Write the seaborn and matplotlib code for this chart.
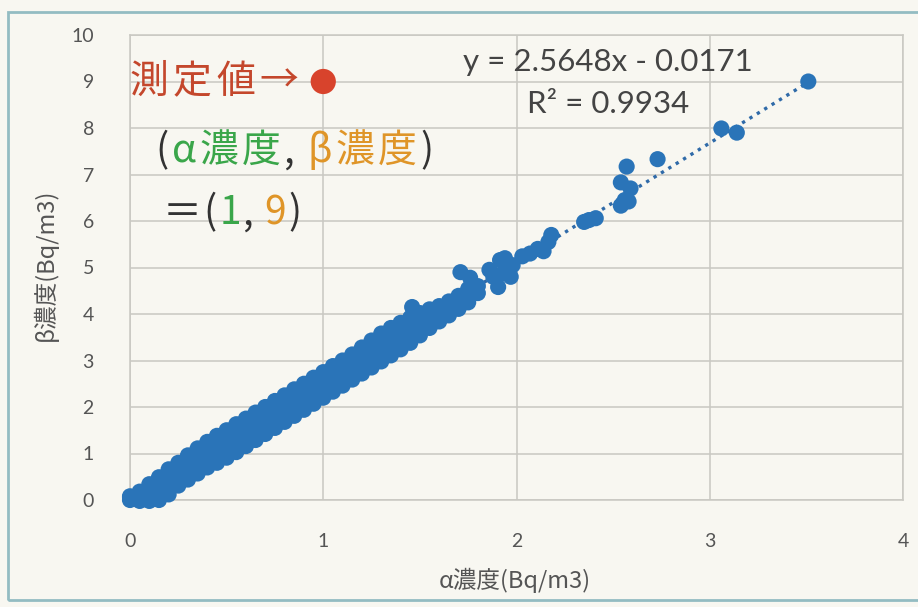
import numpy as np
import pandas as pd
import matplotlib.pyplot as plt
import seaborn as sns
from matplotlib.offsetbox import TextArea, HPacker, AnnotationBbox
from matplotlib.patches import Rectangle

band_x = [0.00, 0.05, 0.10, 0.15, 0.20, 0.25, 0.30, 0.35, 0.40, 0.45,
          0.50, 0.55, 0.60, 0.65, 0.70, 0.75, 0.80, 0.85, 0.90, 0.95,
          1.00, 1.05, 1.10, 1.15, 1.20, 1.25, 1.30, 1.35, 1.40, 1.45,
          1.50, 1.55, 1.60, 1.65, 1.70, 1.75]
band_lo = [0.00, -0.02, -0.02, 0.00, 0.12, 0.31, 0.44, 0.57, 0.70, 0.80,
           0.91, 1.03, 1.16, 1.29, 1.42, 1.55, 1.68, 1.81, 1.94, 2.07,
           2.20, 2.33, 2.46, 2.59, 2.72, 2.85, 2.98, 3.11, 3.24, 3.38,
           3.54, 3.70, 3.84, 3.97, 4.11, 4.25]
band_mid = [0.05, 0.08, 0.15, 0.22, 0.36, 0.52, 0.67, 0.82, 0.95, 1.07,
            1.20, 1.33, 1.46, 1.59, 1.71, 1.84, 1.97, 2.09, 2.22, 2.35,
            2.48, 2.60, 2.73, 2.86, 3.00, 3.14, 3.28, 3.40, 3.52, 3.65,
            3.78, 3.90, 4.00, 4.11, 4.25, 4.40]
band_hi = [0.08, 0.18, 0.34, 0.49, 0.66, 0.80, 0.96, 1.11, 1.25, 1.38,
           1.50, 1.63, 1.75, 1.88, 2.00, 2.13, 2.25, 2.38, 2.50, 2.63,
           2.75, 2.88, 3.00, 3.13, 3.28, 3.43, 3.58, 3.70, 3.81, 3.92,
           4.02, 4.10, 4.17, 4.27, 4.39, 4.54]

# sparse points at the upper end
tail_alpha = [1.46, 1.71, 1.76, 1.80, 1.80, 1.86, 1.88, 1.905, 1.915, 1.93,
              1.94, 1.97, 1.98, 2.03, 2.07, 2.11, 2.14, 2.165, 2.18, 2.35,
              2.375, 2.41, 2.54, 2.56, 2.58, 2.54, 2.59, 2.57, 2.73, 3.06,
              3.14, 3.51]
tail_beta = [4.15, 4.90, 4.78, 4.45, 4.60, 4.95, 4.80, 4.58, 5.16, 4.88,
             5.20, 4.80, 5.05, 5.24, 5.30, 5.40, 5.35, 5.55, 5.70, 5.98,
             6.02, 6.06, 6.33, 6.45, 6.42, 6.83, 6.70, 7.17, 7.33, 7.99,
             7.90, 9.00]

trend_slope = 2.5648
trend_intercept = -0.0171
trend_x = [0.0, 3.51]

marked_alpha = [1]
marked_beta = [9]

x_ticks = [0, 1, 2, 3, 4]
y_ticks = [0, 1, 2, 3, 4, 5, 6, 7, 8, 9, 10]

blue = "#2a74b8"
red = "#d8432c"
green = "#3aa64a"
orange = "#df9528"
dark = "#333333"
bg = "#f8f7f1"

df = pd.DataFrame({
    "alpha": band_x * 3 + tail_alpha,
    "beta": band_lo + band_mid + band_hi + tail_beta,
})

sns.set_style("white")
plt.rcParams["font.family"] = ["Lato", "Noto Sans CJK JP", "DejaVu Sans"]
jp = ["Noto Sans CJK JP", "DejaVu Sans"]

fig = plt.figure(figsize=(9.18, 6.07), dpi=100, facecolor=bg)
ax = fig.add_axes([130 / 918, 107 / 607, 773 / 918, 465 / 607])
ax.set_facecolor(bg)

# outer chart frame (right side runs off the page like the scan)
fig.patches.append(Rectangle((8 / 918, 7 / 607), 1.05, 588 / 607, transform=fig.transFigure,
                             fill=False, edgecolor="#93bcc2", linewidth=2))

trend_y = [trend_slope * v + trend_intercept for v in trend_x]
sns.lineplot(x=trend_x, y=trend_y, ax=ax, color="#2f6aa8", linewidth=2.4,
             linestyle=(0, (1, 1.6)), zorder=2)

sns.scatterplot(data=df, x="alpha", y="beta", ax=ax, color=blue, s=135,
                edgecolor="none", linewidth=0, clip_on=False, zorder=3)
sns.scatterplot(x=marked_alpha, y=marked_beta, ax=ax, color=red, s=330,
                edgecolor="none", linewidth=0, clip_on=False, zorder=4)

ax.set_xlim(0, 4)
ax.set_ylim(0, 10)
ax.set_xticks(x_ticks)
ax.set_yticks(y_ticks)
ax.grid(True, color="#c9c8c2", linewidth=1.1)
ax.set_axisbelow(True)
for sp in ax.spines.values():
    sp.set_color("#c9c8c2")
    sp.set_linewidth(1.1)
ax.tick_params(axis="both", length=0, labelsize=14, labelcolor="#555555")
ax.tick_params(axis="x", pad=24)
ax.tick_params(axis="y", pad=26)

ax.set_xlabel("α濃度(Bq/m3)", fontsize=17, color="#555555", family=jp)
ax.set_ylabel("β濃度(Bq/m3)", fontsize=17, color="#555555", family=jp)
ax.xaxis.set_label_coords(0.498, -0.172)
ax.xaxis.label.set_va("center")
ax.yaxis.set_label_coords(-0.110, 0.505)
ax.yaxis.label.set_va("center")

# regression label
ax.text(2.475, 9.42, "y = 2.5648x - 0.0171", fontsize=22.5, color="#444444",
        ha="center", va="center")
ax.text(2.475, 8.52, "R² = 0.9934", fontsize=22.5, color="#444444",
        ha="center", va="center")


def spaced_line(parts, xy, sep):
    # one TextArea per token so the wide lettering of the scan can be matched
    boxes = []
    for text, col in parts:
        tokens = [text] if text == ",\u00a0" else list(text)
        for tok in tokens:
            boxes.append(TextArea(tok, textprops=dict(color=col, fontsize=28, family=jp)))
    pack = HPacker(children=boxes, pad=0, sep=sep, align="baseline")
    ab = AnnotationBbox(pack, xy, xycoords="data", box_alignment=(0, 0.5),
                        frameon=False, pad=0)
    ax.add_artist(ab)


spaced_line([("測定値→", "#c4472c")], (0.0, 8.99), 3)
spaced_line([("(", dark), ("α濃度", green), (",\u00a0", dark), ("β濃度", orange), (")", dark)],
            (0.13, 7.5), 2.5)
spaced_line([("＝(", dark), ("1", green), (",\u00a0", dark), ("9", orange), (")", dark)],
            (0.17, 6.17), 1.5)

fig.savefig("out.png", dpi=100, facecolor=bg)
